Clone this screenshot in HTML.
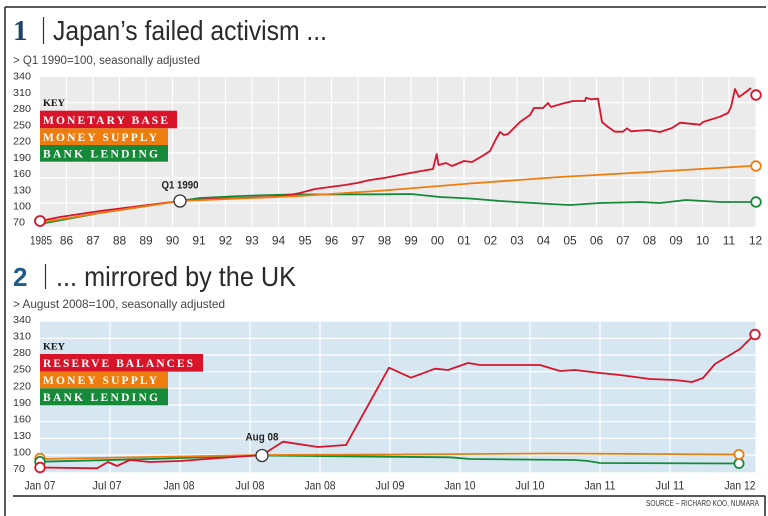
<!DOCTYPE html>
<html>
<head>
<meta charset="utf-8">
<style>
html,body{margin:0;padding:0;background:#fff;}
svg{display:block;}
</style>
</head>
<body>
<svg width="768" height="516" viewBox="0 0 768 516" xmlns="http://www.w3.org/2000/svg" font-family="'Liberation Sans', sans-serif">
<!-- frame -->
<line x1="5" y1="7" x2="766" y2="7" stroke="#222" stroke-width="1.5"/>
<line x1="5" y1="7" x2="5" y2="516" stroke="#222" stroke-width="1.5"/>
<line x1="13" y1="496" x2="765.5" y2="496" stroke="#222" stroke-width="1.5"/>
<line x1="765" y1="496" x2="765" y2="516" stroke="#222" stroke-width="1.5"/>

<!-- ===== Chart 1 ===== -->
<text x="13" y="40" font-family="'Liberation Serif', serif" font-weight="bold" font-size="29" fill="#1c4467">1</text>
<line x1="43.5" y1="17" x2="43.5" y2="44" stroke="#333" stroke-width="1.2"/>
<text x="53" y="40" font-size="28" fill="#2a2a2a" textLength="274" lengthAdjust="spacingAndGlyphs">Japan’s failed activism ...</text>
<text x="13" y="64" font-size="12" fill="#444" textLength="187" lengthAdjust="spacingAndGlyphs">&gt; Q1 1990=100, seasonally adjusted</text>

<rect x="40" y="77" width="715.5" height="150" fill="#ebebeb"/>
<g stroke="#fff" stroke-width="1.2">
<line x1="40" x2="755.5" y1="102.5" y2="102.5"/>
<line x1="40" x2="755.5" y1="128" y2="128"/>
<line x1="40" x2="755.5" y1="153" y2="153"/>
<line x1="40" x2="755.5" y1="178" y2="178"/>
<line x1="40" x2="755.5" y1="203" y2="203"/>
<line x1="66.5" x2="66.5" y1="77" y2="227"/>
<line x1="93" x2="93" y1="77" y2="227"/>
<line x1="119.5" x2="119.5" y1="77" y2="227"/>
<line x1="146" x2="146" y1="77" y2="227"/>
<line x1="172.5" x2="172.5" y1="77" y2="227"/>
<line x1="199" x2="199" y1="77" y2="227"/>
<line x1="225.5" x2="225.5" y1="77" y2="227"/>
<line x1="252" x2="252" y1="77" y2="227"/>
<line x1="278.5" x2="278.5" y1="77" y2="227"/>
<line x1="305" x2="305" y1="77" y2="227"/>
<line x1="331.5" x2="331.5" y1="77" y2="227"/>
<line x1="358" x2="358" y1="77" y2="227"/>
<line x1="384.5" x2="384.5" y1="77" y2="227"/>
<line x1="411" x2="411" y1="77" y2="227"/>
<line x1="437.5" x2="437.5" y1="77" y2="227"/>
<line x1="464" x2="464" y1="77" y2="227"/>
<line x1="490.5" x2="490.5" y1="77" y2="227"/>
<line x1="517" x2="517" y1="77" y2="227"/>
<line x1="543.5" x2="543.5" y1="77" y2="227"/>
<line x1="570" x2="570" y1="77" y2="227"/>
<line x1="596.5" x2="596.5" y1="77" y2="227"/>
<line x1="623" x2="623" y1="77" y2="227"/>
<line x1="649.5" x2="649.5" y1="77" y2="227"/>
<line x1="676" x2="676" y1="77" y2="227"/>
<line x1="702.5" x2="702.5" y1="77" y2="227"/>
<line x1="729" x2="729" y1="77" y2="227"/>
</g>

<!-- y labels chart 1 -->
<g font-size="10.5" fill="#333">
<text x="13" y="79.5" textLength="18" lengthAdjust="spacingAndGlyphs">340</text>
<text x="13" y="95.9" textLength="18" lengthAdjust="spacingAndGlyphs">310</text>
<text x="13" y="112.1" textLength="18" lengthAdjust="spacingAndGlyphs">280</text>
<text x="13" y="128.4" textLength="18" lengthAdjust="spacingAndGlyphs">250</text>
<text x="13" y="144.6" textLength="18" lengthAdjust="spacingAndGlyphs">220</text>
<text x="13" y="160.8" textLength="18" lengthAdjust="spacingAndGlyphs">190</text>
<text x="13" y="177.1" textLength="18" lengthAdjust="spacingAndGlyphs">160</text>
<text x="13" y="193.3" textLength="18" lengthAdjust="spacingAndGlyphs">130</text>
<text x="13" y="209.5" textLength="18" lengthAdjust="spacingAndGlyphs">100</text>
<text x="13" y="225.5" textLength="12" lengthAdjust="spacingAndGlyphs">70</text>
</g>
<!-- x labels chart 1 -->
<g font-size="12" fill="#333" text-anchor="middle">
<text x="41" y="244.5" textLength="22" lengthAdjust="spacingAndGlyphs">1985</text>
<text x="66.5" y="244.5">86</text>
<text x="93" y="244.5">87</text>
<text x="119.5" y="244.5">88</text>
<text x="146" y="244.5">89</text>
<text x="172.5" y="244.5">90</text>
<text x="199" y="244.5">91</text>
<text x="225.5" y="244.5">92</text>
<text x="252" y="244.5">93</text>
<text x="278.5" y="244.5">94</text>
<text x="305" y="244.5">95</text>
<text x="331.5" y="244.5">96</text>
<text x="358" y="244.5">97</text>
<text x="384.5" y="244.5">98</text>
<text x="411" y="244.5">99</text>
<text x="437.5" y="244.5">00</text>
<text x="464" y="244.5">01</text>
<text x="490.5" y="244.5">02</text>
<text x="517" y="244.5">03</text>
<text x="543.5" y="244.5">04</text>
<text x="570" y="244.5">05</text>
<text x="596.5" y="244.5">06</text>
<text x="623" y="244.5">07</text>
<text x="649.5" y="244.5">08</text>
<text x="676" y="244.5">09</text>
<text x="702.5" y="244.5">10</text>
<text x="729" y="244.5">11</text>
<text x="755.5" y="244.5">12</text>
</g>

<!-- key chart 1 -->
<text x="43" y="106" font-family="'Liberation Serif', serif" font-weight="bold" font-size="9" fill="#111" textLength="22" lengthAdjust="spacingAndGlyphs">KEY</text>
<rect x="40" y="110.7" width="137" height="17.6" fill="#d8142b"/>
<rect x="40" y="128.3" width="128" height="16.7" fill="#ee7d10"/>
<rect x="40" y="145" width="128" height="16.7" fill="#178a3a"/>
<g font-family="'Liberation Serif', serif" font-weight="bold" font-size="11.5" fill="#fff">
<text x="43" y="123.8" textLength="125" lengthAdjust="spacing">MONETARY BASE</text>
<text x="43" y="140.8" textLength="114" lengthAdjust="spacing">MONEY SUPPLY</text>
<text x="43" y="157.3" textLength="115" lengthAdjust="spacing">BANK LENDING</text>
</g>

<!-- series chart 1 -->
<g fill="none" stroke-width="1.8" stroke-linejoin="round">
<polyline stroke="#178a3a" points="40,224 100,213 180,201 200,198 240,196 290,194.5 384,194.3 411,194 440,197 470,198.5 500,201 550,204 570,205 600,203 640,202 660,203 686,200 720,202 751,202"/>
<polyline stroke="#d8142b" points="40,221 60,217 100,211 140,206 180,201 210,199 240,198 270,197 290,195 300,193 315,189 330,187 345,185 357,183 370,180 384,178 410,173 433,169 436.7,154 438.5,165 446,163 452,166 464,161 472,162 484,155 490,151 496,139 500,132 504,135 508,134 520,122 530,115 534,108 543,108 548,103 551,107 560,104.3 573,101 585,101 586,97.7 591,99.3 598,98.7 602,122 608,127 615,131.7 623,131.7 627,128.3 631,131.3 648,130 660,132 672,128 680,122.7 700,124.7 703,122 720,116.7 728,113 731,107 735,89 739,97 746,92 751,88"/>
<polyline stroke="#ee7d10" points="40,222.5 100,213 180,201 240,198.5 300,196 384,190.5 470,183.5 560,177 650,172 751,166"/>
</g>
<g fill="#fff" stroke-width="1.8">
<circle cx="40" cy="221" r="5" stroke="#d8142b"/>
<circle cx="756" cy="95" r="4.8" stroke="#d8142b"/>
<circle cx="756" cy="166" r="4.8" stroke="#ee7d10"/>
<circle cx="756" cy="202" r="4.8" stroke="#178a3a"/>
<circle cx="180" cy="201" r="6" stroke="#333" stroke-width="1.3"/>
</g>
<text x="180" y="188.5" font-size="11" font-weight="bold" fill="#222" text-anchor="middle" textLength="37" lengthAdjust="spacingAndGlyphs">Q1 1990</text>

<!-- ===== Chart 2 ===== -->
<text x="13" y="286" font-weight="bold" font-size="26" fill="#1d5a86">2</text>
<line x1="45.5" y1="264" x2="45.5" y2="289" stroke="#333" stroke-width="1.2"/>
<text x="56" y="286" font-size="28" fill="#2a2a2a" textLength="240" lengthAdjust="spacingAndGlyphs">... mirrored by the UK</text>
<text x="13" y="308" font-size="12" fill="#444" textLength="212" lengthAdjust="spacingAndGlyphs">&gt; August 2008=100, seasonally adjusted</text>

<rect x="40" y="321.7" width="715.5" height="150.6" fill="#d6e7f2"/>
<g stroke="#fff" stroke-width="1.2">
<line x1="40" x2="755.5" y1="338.4" y2="338.4"/>
<line x1="40" x2="755.5" y1="355" y2="355"/>
<line x1="40" x2="755.5" y1="371.7" y2="371.7"/>
<line x1="40" x2="755.5" y1="388.3" y2="388.3"/>
<line x1="40" x2="755.5" y1="405" y2="405"/>
<line x1="40" x2="755.5" y1="421.7" y2="421.7"/>
<line x1="40" x2="755.5" y1="438.3" y2="438.3"/>
<line x1="40" x2="755.5" y1="455" y2="455"/>
<line x1="110" x2="110" y1="321.7" y2="472.3"/>
<line x1="180" x2="180" y1="321.7" y2="472.3"/>
<line x1="250" x2="250" y1="321.7" y2="472.3"/>
<line x1="320" x2="320" y1="321.7" y2="472.3"/>
<line x1="390" x2="390" y1="321.7" y2="472.3"/>
<line x1="460" x2="460" y1="321.7" y2="472.3"/>
<line x1="530" x2="530" y1="321.7" y2="472.3"/>
<line x1="600" x2="600" y1="321.7" y2="472.3"/>
<line x1="670" x2="670" y1="321.7" y2="472.3"/>
</g>

<!-- y labels chart 2 -->
<g font-size="10.5" fill="#333">
<text x="13" y="323" textLength="18" lengthAdjust="spacingAndGlyphs">340</text>
<text x="13" y="339.6" textLength="18" lengthAdjust="spacingAndGlyphs">310</text>
<text x="13" y="356.2" textLength="18" lengthAdjust="spacingAndGlyphs">280</text>
<text x="13" y="372.7" textLength="18" lengthAdjust="spacingAndGlyphs">250</text>
<text x="13" y="389.3" textLength="18" lengthAdjust="spacingAndGlyphs">220</text>
<text x="13" y="405.9" textLength="18" lengthAdjust="spacingAndGlyphs">190</text>
<text x="13" y="422.5" textLength="18" lengthAdjust="spacingAndGlyphs">160</text>
<text x="13" y="439" textLength="18" lengthAdjust="spacingAndGlyphs">130</text>
<text x="13" y="455.6" textLength="18" lengthAdjust="spacingAndGlyphs">100</text>
<text x="13" y="472" textLength="12" lengthAdjust="spacingAndGlyphs">70</text>
</g>
<!-- x labels chart 2 -->
<g font-size="12" fill="#333" text-anchor="middle">
<text x="40" y="489.5" textLength="31" lengthAdjust="spacingAndGlyphs">Jan 07</text>
<text x="107" y="489.5" textLength="29" lengthAdjust="spacingAndGlyphs">Jul 07</text>
<text x="179" y="489.5" textLength="31" lengthAdjust="spacingAndGlyphs">Jan 08</text>
<text x="250" y="489.5" textLength="29" lengthAdjust="spacingAndGlyphs">Jul 08</text>
<text x="320" y="489.5" textLength="31" lengthAdjust="spacingAndGlyphs">Jan 08</text>
<text x="390" y="489.5" textLength="29" lengthAdjust="spacingAndGlyphs">Jul 09</text>
<text x="460" y="489.5" textLength="31" lengthAdjust="spacingAndGlyphs">Jan 10</text>
<text x="530" y="489.5" textLength="29" lengthAdjust="spacingAndGlyphs">Jul 10</text>
<text x="600" y="489.5" textLength="31" lengthAdjust="spacingAndGlyphs">Jan 11</text>
<text x="670" y="489.5" textLength="29" lengthAdjust="spacingAndGlyphs">Jul 11</text>
<text x="740" y="489.5" textLength="31" lengthAdjust="spacingAndGlyphs">Jan 12</text>
</g>

<!-- key chart 2 -->
<text x="43" y="349.5" font-family="'Liberation Serif', serif" font-weight="bold" font-size="9" fill="#111" textLength="22" lengthAdjust="spacingAndGlyphs">KEY</text>
<rect x="40" y="354" width="163" height="17.7" fill="#d8142b"/>
<rect x="40" y="371.7" width="128" height="16.6" fill="#ee7d10"/>
<rect x="40" y="388.3" width="128" height="17" fill="#178a3a"/>
<g font-family="'Liberation Serif', serif" font-weight="bold" font-size="11.5" fill="#fff">
<text x="43" y="367.1" textLength="150" lengthAdjust="spacing">RESERVE BALANCES</text>
<text x="43" y="384" textLength="114" lengthAdjust="spacing">MONEY SUPPLY</text>
<text x="43" y="400.8" textLength="115" lengthAdjust="spacing">BANK LENDING</text>
</g>

<!-- series chart 2 -->
<g fill="none" stroke-width="1.8" stroke-linejoin="round">
<polyline stroke="#178a3a" points="40,461.7 150,459 262,455.5 384,456.7 450,457.3 470,459 575,460 588,461 600,463 736,463.5"/>
<polyline stroke="#ee7d10" points="40,459 150,457 262,455 400,454.5 550,453.5 650,454 736,454.5"/>
<polyline stroke="#d8142b" points="40,467.5 97,468.3 108,462 117,466 130,460 150,462 180,461 220,458 262,455 270,450 283,441.7 318,447 346,445 389,367.7 411,377.7 435,368.7 448,370 468,363 480,365 520,365 540,365 560,371 575,370 600,373 620,375 650,379 675,380 692,382 703,378 715,364 730,355 740,349 751,338"/>
</g>
<g fill="#fff" stroke-width="1.8">
<circle cx="40" cy="458.5" r="4.8" stroke="#ee7d10"/>
<circle cx="40" cy="461.7" r="4.8" stroke="#178a3a"/>
<circle cx="40" cy="467.5" r="4.8" stroke="#d8142b"/>
<circle cx="755" cy="334.5" r="4.8" stroke="#d8142b"/>
<circle cx="739" cy="463.5" r="4.6" stroke="#178a3a"/>
<circle cx="739" cy="454.5" r="4.6" stroke="#ee7d10"/>
<circle cx="262" cy="455.5" r="6" stroke="#333" stroke-width="1.3"/>
</g>
<text x="262" y="440.5" font-size="11" font-weight="bold" fill="#222" text-anchor="middle" textLength="33" lengthAdjust="spacingAndGlyphs">Aug 08</text>

<text x="646" y="506" font-size="8" fill="#333" textLength="113" lengthAdjust="spacingAndGlyphs">SOURCE – RICHARD KOO, NUMARA</text>
</svg>
</body>
</html>
